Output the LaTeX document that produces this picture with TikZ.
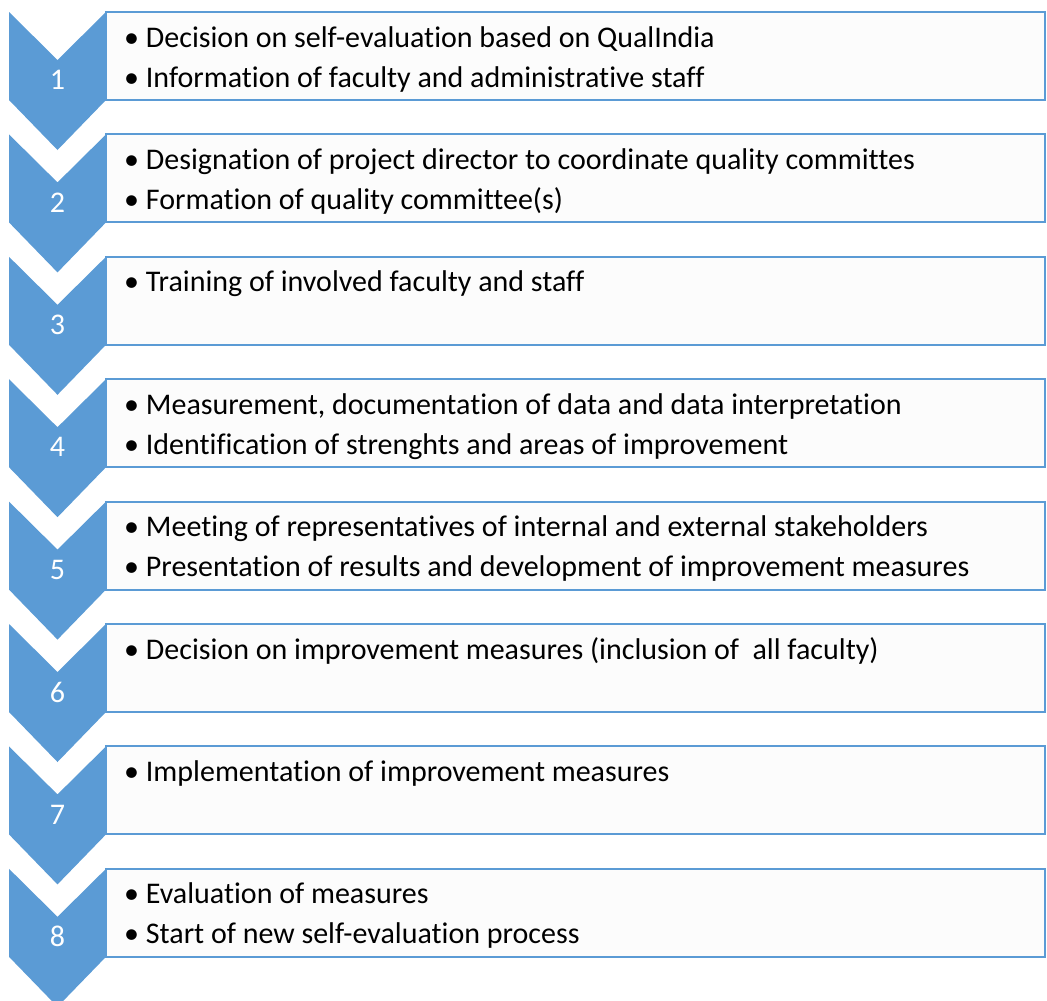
\documentclass[tikz,border=0pt]{standalone}
\usepackage{fontspec}
\setmainfont{Carlito}[Ligatures=NoCommon]
\definecolor{stepblue}{HTML}{5B9BD5}
\definecolor{boxfill}{HTML}{FCFCFC}

\begin{document}
\begin{tikzpicture}[x=1pt,y=-1pt,
  chevron/.style={fill=stepblue},
  stepbox/.style={draw=stepblue,line width=2pt,fill=boxfill},
  number/.style={text=white,inner sep=0pt,font=\fontsize{30}{30}\selectfont},
  item/.style={anchor=base west,inner sep=0pt,font=\fontsize{30}{30}\selectfont}]
\useasboundingbox (0,0) rectangle (1047,1001);
\clip (0,0) rectangle (1047,1001);
% step 1
\draw [stepbox] (106,12) rectangle (1045,100);
\fill [chevron] (9,12) -- (57.5,60) -- (106,12) -- (106,100) -- (57.5,150) -- (9,100) -- cycle;
\node [number] (n1) at (57.5,80) {1};
\node [item] (t1a) at (124,47) {• Decision on self-evaluation based on QualIndia};
\node [item] (t1b) at (124,87) {• Information of faculty and administrative staff};
% step 2
\draw [stepbox] (106,134.4) rectangle (1045,222.4);
\fill [chevron] (9,134.4) -- (57.5,182.4) -- (106,134.4) -- (106,222.4) -- (57.5,272.4) -- (9,222.4) -- cycle;
\node [number] (n2) at (57.5,202.4) {2};
\node [item] (t2a) at (124,169.4) {• Designation of project director to coordinate quality committes};
\node [item] (t2b) at (124,209.4) {• Formation of quality committee(s)};
% step 3
\draw [stepbox] (106,256.8) rectangle (1045,344.8);
\fill [chevron] (9,256.8) -- (57.5,304.8) -- (106,256.8) -- (106,344.8) -- (57.5,394.8) -- (9,344.8) -- cycle;
\node [number] (n3) at (57.5,324.8) {3};
\node [item] (t3a) at (124,291.8) {• Training of involved faculty and staff};
% step 4
\draw [stepbox] (106,379.2) rectangle (1045,467.2);
\fill [chevron] (9,379.2) -- (57.5,427.2) -- (106,379.2) -- (106,467.2) -- (57.5,517.2) -- (9,467.2) -- cycle;
\node [number] (n4) at (57.5,447.2) {4};
\node [item] (t4a) at (124,414.2) {• Measurement, documentation of data and data interpretation};
\node [item] (t4b) at (124,454.2) {• Identification of strenghts and areas of improvement};
% step 5
\draw [stepbox] (106,501.6) rectangle (1045,589.6);
\fill [chevron] (9,501.6) -- (57.5,549.6) -- (106,501.6) -- (106,589.6) -- (57.5,639.6) -- (9,589.6) -- cycle;
\node [number] (n5) at (57.5,569.6) {5};
\node [item] (t5a) at (124,536.6) {• Meeting of representatives of internal and external stakeholders};
\node [item] (t5b) at (124,576.6) {• Presentation of results and development of improvement measures};
% step 6
\draw [stepbox] (106,624) rectangle (1045,712);
\fill [chevron] (9,624) -- (57.5,672) -- (106,624) -- (106,712) -- (57.5,762) -- (9,712) -- cycle;
\node [number] (n6) at (57.5,692) {6};
\node [item] (t6a) at (124,659) {• Decision on improvement measures (inclusion of~ all faculty)};
% step 7
\draw [stepbox] (106,746.4) rectangle (1045,834.4);
\fill [chevron] (9,746.4) -- (57.5,794.4) -- (106,746.4) -- (106,834.4) -- (57.5,884.4) -- (9,834.4) -- cycle;
\node [number] (n7) at (57.5,814.4) {7};
\node [item] (t7a) at (124,781.4) {• Implementation of improvement measures};
% step 8
\draw [stepbox] (106,868.8) rectangle (1045,956.8);
\fill [chevron] (9,868.8) -- (57.5,916.8) -- (106,868.8) -- (106,956.8) -- (57.5,1006.8) -- (9,956.8) -- cycle;
\node [number] (n8) at (57.5,936.8) {8};
\node [item] (t8a) at (124,903.8) {• Evaluation of measures};
\node [item] (t8b) at (124,943.8) {• Start of new self-evaluation process};
\end{tikzpicture}
\end{document}
